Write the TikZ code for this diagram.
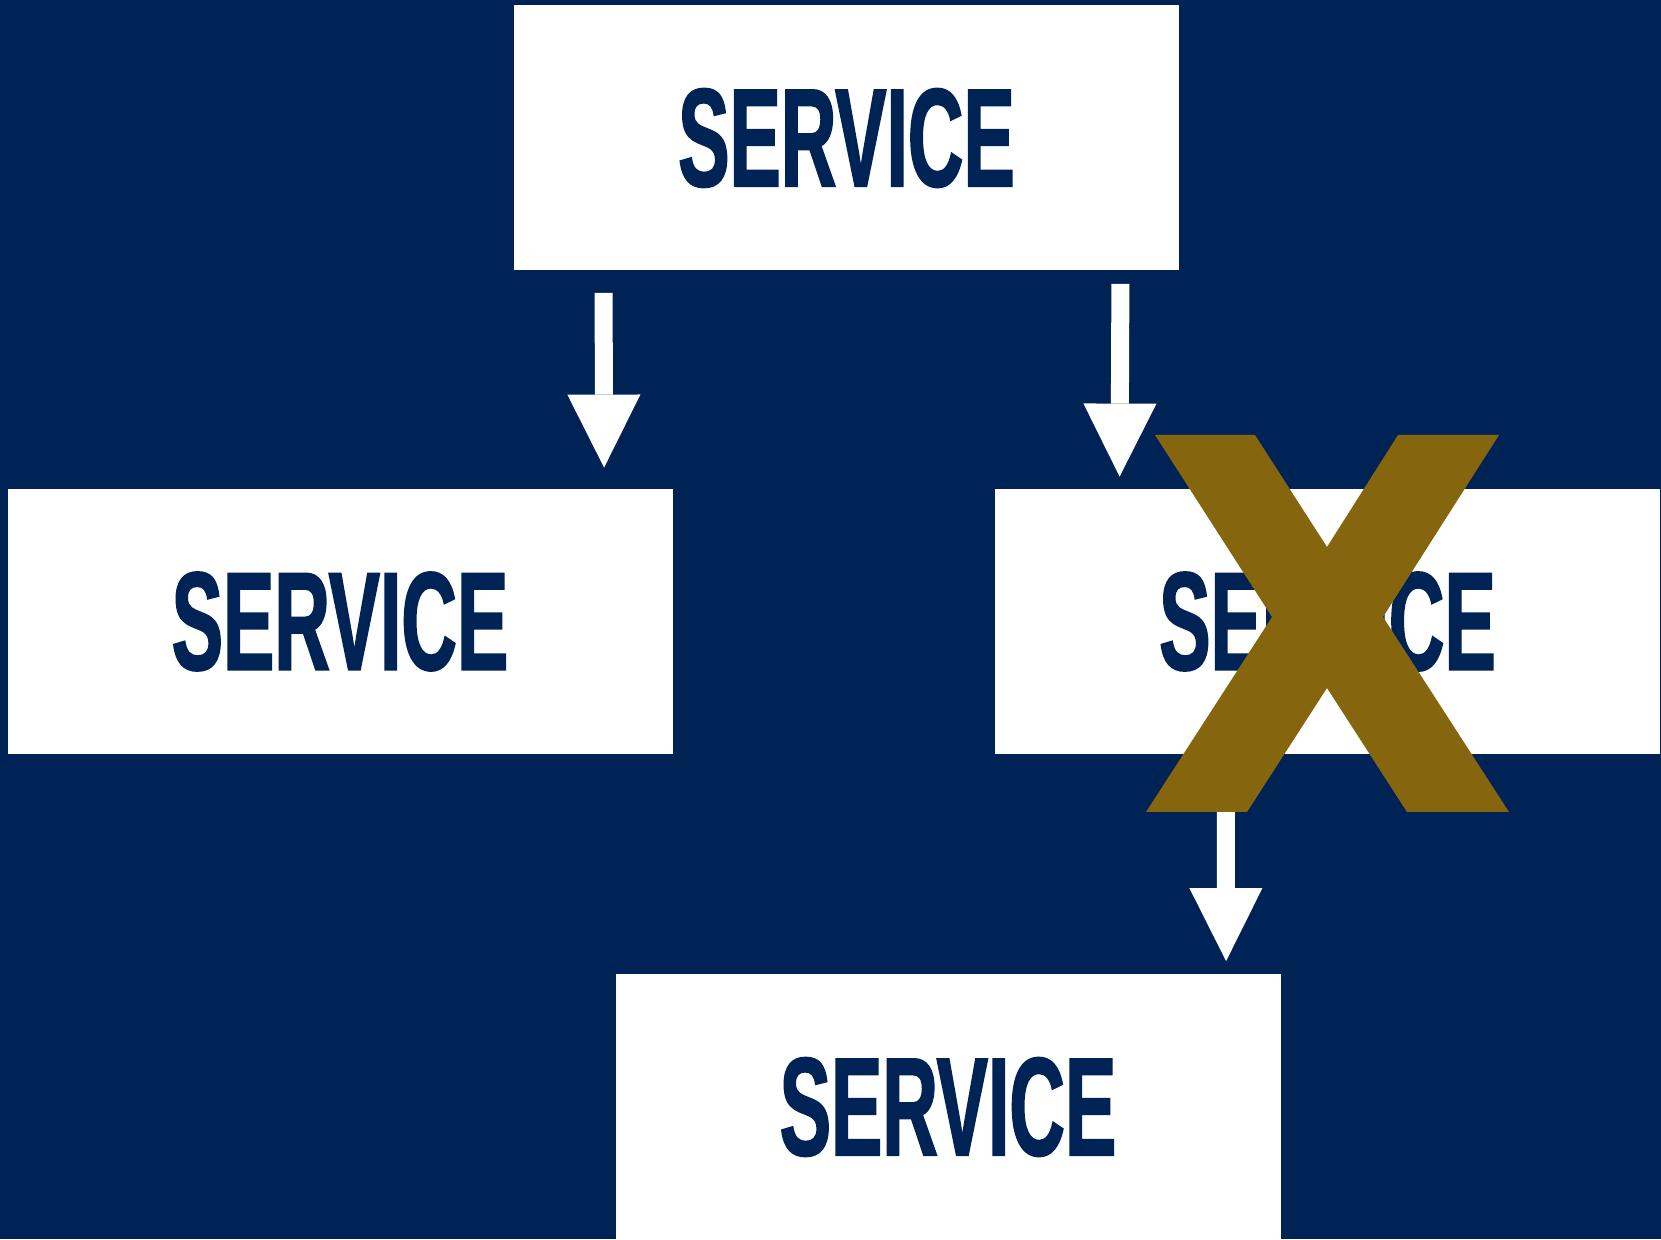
\documentclass[tikz,border=0pt]{standalone}
\usepackage{fontspec}
\newfontfamily\servicefont{Liberation Sans}[FakeStretch=0.55,FakeBold=1.2]
\usepackage{tikz}
\usetikzlibrary{arrows.meta, calc, positioning}

\definecolor{navyblue}{HTML}{002356}
\definecolor{crossgold}{HTML}{86650F}

\tikzset{
    svcbox/.style={shape=rectangle, fill=white, minimum width=332.5pt, minimum height=132.5pt,
        inner sep=0pt, text=navyblue, font=\servicefont\bfseries\fontsize{70}{70}\selectfont},
    blockarrow/.style={draw=white, line width=9pt,
        -{Triangle[width=36.5pt, length=36.5pt, line width=0pt]}},
}

\begin{document}
\begin{tikzpicture}[x=0.5pt, y=-0.5pt]
    %background, same size as the picture
    \fill[navyblue] (0,0) rectangle (1661,1239);
    \path (846.5,138) node [svcbox] (svcTop) {SERVICE}
        (340,621.5) node [svcbox] (svcLeft) {SERVICE}
        (1327.5,621.5) node [svcbox] (svcRight) {SERVICE}
        (948,1107) node [svcbox] (svcBottom) {SERVICE};
    \draw[blockarrow] ($(svcTop.south west)+(90,22)$) -- ($(svcLeft.north west)+(597,-21)$);
    \draw[blockarrow] ($(svcTop.south east)+(-59,13)$) -- ($(svcRight.north west)+(125,-12)$);
    \draw[blockarrow] ($(svcRight.south west)+(231,0)$) -- ($(svcBottom.north west)+(611,-13)$);
    % the cross over the failed one
    \fill[crossgold] (1155,435) -- (1255,435) -- (1327,547) -- (1398,435) -- (1499,435)
        -- (1383,617) -- (1509,812) -- (1407,812) -- (1327,688) -- (1247,812)
        -- (1146,812) -- (1272,617) -- cycle;
\end{tikzpicture}
\end{document}
